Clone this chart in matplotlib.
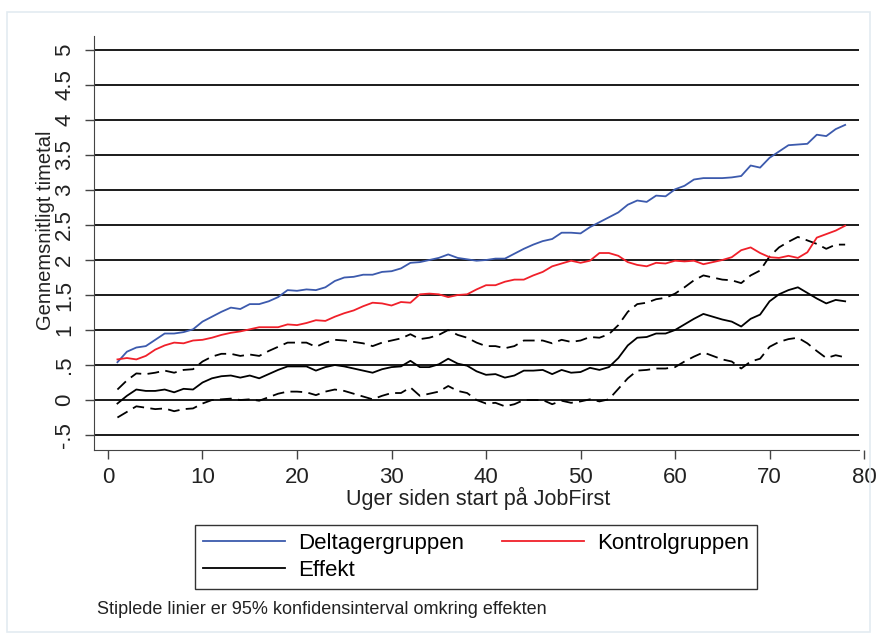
import matplotlib
matplotlib.use("Agg")
import matplotlib.pyplot as plt
from matplotlib.patches import Rectangle

plt.rcParams['font.family'] = ['Liberation Sans', 'DejaVu Sans']

# uger siden start
weeks = list(range(1, 79))

deltager = [0.54, 0.69, 0.75, 0.77, 0.86, 0.95, 0.95, 0.97, 1.01, 1.12,
            1.19, 1.26, 1.32, 1.30, 1.37, 1.37, 1.41, 1.47, 1.57, 1.56,
            1.58, 1.57, 1.61, 1.70, 1.75, 1.76, 1.79, 1.79, 1.83, 1.84,
            1.88, 1.96, 1.97, 2.00, 2.03, 2.08, 2.03, 2.01, 1.99, 2.00,
            2.02, 2.02, 2.09, 2.16, 2.22, 2.27, 2.30, 2.39, 2.39, 2.38,
            2.47, 2.54, 2.61, 2.68, 2.79, 2.85, 2.83, 2.92, 2.91, 3.01,
            3.06, 3.15, 3.17, 3.17, 3.17, 3.18, 3.20, 3.35, 3.32, 3.46,
            3.55, 3.64, 3.65, 3.66, 3.79, 3.77, 3.87, 3.93]

kontrol = [0.58, 0.60, 0.58, 0.63, 0.72, 0.78, 0.82, 0.81, 0.85, 0.86,
           0.89, 0.93, 0.96, 0.98, 1.01, 1.04, 1.04, 1.04, 1.08, 1.07,
           1.10, 1.14, 1.13, 1.19, 1.24, 1.28, 1.34, 1.39, 1.38, 1.35,
           1.40, 1.39, 1.51, 1.52, 1.51, 1.47, 1.50, 1.51, 1.58, 1.64,
           1.64, 1.69, 1.72, 1.72, 1.78, 1.83, 1.91, 1.95, 1.99, 1.96,
           1.99, 2.10, 2.10, 2.06, 1.97, 1.93, 1.91, 1.96, 1.95, 1.99,
           1.98, 1.99, 1.94, 1.97, 2.00, 2.04, 2.14, 2.18, 2.10, 2.04,
           2.03, 2.06, 2.03, 2.11, 2.32, 2.37, 2.42, 2.49]

effekt = [-0.05, 0.06, 0.15, 0.13, 0.13, 0.15, 0.11, 0.16, 0.15, 0.25,
          0.31, 0.34, 0.35, 0.32, 0.35, 0.31, 0.37, 0.43, 0.48, 0.48,
          0.48, 0.42, 0.47, 0.50, 0.48, 0.45, 0.42, 0.39, 0.44, 0.47,
          0.48, 0.56, 0.47, 0.47, 0.51, 0.59, 0.52, 0.49, 0.41, 0.36,
          0.37, 0.32, 0.35, 0.42, 0.42, 0.43, 0.37, 0.43, 0.39, 0.40,
          0.46, 0.43, 0.47, 0.60, 0.78, 0.89, 0.90, 0.95, 0.95, 1.00,
          1.08, 1.16, 1.23, 1.19, 1.15, 1.12, 1.05, 1.16, 1.22, 1.41,
          1.51, 1.57, 1.61, 1.53, 1.45, 1.38, 1.43, 1.41]

ci_upper = [0.15, 0.28, 0.38, 0.37, 0.39, 0.42, 0.39, 0.43, 0.44, 0.55,
            0.62, 0.66, 0.66, 0.63, 0.65, 0.63, 0.70, 0.76, 0.82, 0.82,
            0.82, 0.76, 0.82, 0.86, 0.85, 0.83, 0.81, 0.77, 0.82, 0.85,
            0.88, 0.94, 0.87, 0.89, 0.93, 1.00, 0.93, 0.89, 0.82, 0.77,
            0.77, 0.74, 0.77, 0.85, 0.85, 0.85, 0.81, 0.86, 0.83, 0.85,
            0.90, 0.89, 0.94, 1.07, 1.26, 1.37, 1.39, 1.44, 1.46, 1.52,
            1.61, 1.71, 1.78, 1.75, 1.72, 1.71, 1.67, 1.78, 1.85, 2.05,
            2.18, 2.26, 2.33, 2.28, 2.23, 2.16, 2.22, 2.22]

ci_lower = [-0.25, -0.17, -0.09, -0.11, -0.13, -0.12, -0.16, -0.13, -0.12, -0.05,
            0.00, 0.01, 0.02, 0.00, 0.01, -0.01, 0.04, 0.09, 0.12, 0.12,
            0.11, 0.07, 0.12, 0.15, 0.13, 0.09, 0.05, 0.01, 0.06, 0.10,
            0.10, 0.18, 0.06, 0.09, 0.12, 0.20, 0.13, 0.10, 0.00, -0.05,
            -0.04, -0.09, -0.06, 0.00, 0.00, 0.00, -0.06, -0.01, -0.04, -0.02,
            0.01, -0.02, 0.01, 0.16, 0.31, 0.42, 0.43, 0.45, 0.45, 0.47,
            0.55, 0.62, 0.68, 0.63, 0.58, 0.55, 0.45, 0.55, 0.59, 0.76,
            0.83, 0.87, 0.89, 0.81, 0.70, 0.60, 0.64, 0.61]

yticks = [-0.5, 0, 0.5, 1, 1.5, 2, 2.5, 3, 3.5, 4, 4.5, 5]
ytick_labels = ["-.5", "0", ".5", "1", "1.5", "2", "2.5", "3", "3.5", "4", "4.5", "5"]
xticks = [0, 10, 20, 30, 40, 50, 60, 70, 80]

fig = plt.figure(figsize=(8.77, 6.4), dpi=100)
fig.patches.append(Rectangle((7 / 877, 8 / 640), 863 / 877, 620 / 640,
                             transform=fig.transFigure, fill=False,
                             edgecolor='#e3ebf1', lw=1.2))

x_lo, x_hi, x_end = -1.48, 80.1, 79.47
ax = fig.add_axes([94 / 877, 190 / 640, 771 / 877, 414 / 640])
ax.set_xlim(x_lo, x_hi)
ax.set_ylim(-0.714, 5.2)

# gitterlinjer
ax.hlines(yticks, x_lo, x_end, colors='#1a1a1a', lw=1.4, zorder=1)

ax.plot(weeks, ci_upper, color='black', lw=1.3, ls=(0, (6.5, 3.5)), zorder=3)
ax.plot(weeks, ci_lower, color='black', lw=1.3, ls=(0, (6.5, 3.5)), zorder=3)
l1, = ax.plot(weeks, deltager, color='#3c5aad', lw=1.3, zorder=3, label='Deltagergruppen')
l2, = ax.plot(weeks, kontrol, color='#f0202a', lw=1.3, zorder=3, label='Kontrolgruppen')
l3, = ax.plot(weeks, effekt, color='black', lw=1.3, zorder=3, label='Effekt')

for s in ['top', 'right']:
    ax.spines[s].set_visible(False)
ax.spines['left'].set_color('#444444')
ax.spines['bottom'].set_color('#444444')
ax.spines['bottom'].set_bounds(x_lo, x_end)

ax.set_yticks(yticks)
ax.set_yticklabels(ytick_labels, rotation=90, va='center')
ax.set_xticks(xticks)
ax.tick_params(axis='both', direction='out', length=6.5, width=1, color='#444444',
               labelsize=16, labelcolor='#222222')
ax.tick_params(axis='y', pad=7)
ax.tick_params(axis='x', pad=6)

ax.set_xlabel('Uger siden start på JobFirst', fontsize=15.5, color='#222222')
ax.set_ylabel('Gennemsnitligt timetal', fontsize=14.5, color='#222222')
ax.xaxis.set_label_coords((478 - 94) / 771, -0.088)
ax.yaxis.set_label_coords((55 - 94) / 771, (450 - 230) / 414)

leg = fig.legend([l1, l3, l2], ['Deltagergruppen', 'Effekt', 'Kontrolgruppen'],
                 ncol=2, loc='center', bbox_to_anchor=(476 / 877, 1 - 557 / 640),
                 fontsize=16, frameon=True, fancybox=False, edgecolor='black',
                 handlelength=3.7, handletextpad=0.6, columnspacing=1.7,
                 labelspacing=0.25, borderpad=0.35)
leg.get_frame().set_linewidth(1.0)

fig.text(97 / 877, 1 - 610 / 640, 'Stiplede linier er 95% konfidensinterval omkring effekten',
         fontsize=13, va='center', ha='left', color='#222222')

fig.savefig('out.png', dpi=100)
